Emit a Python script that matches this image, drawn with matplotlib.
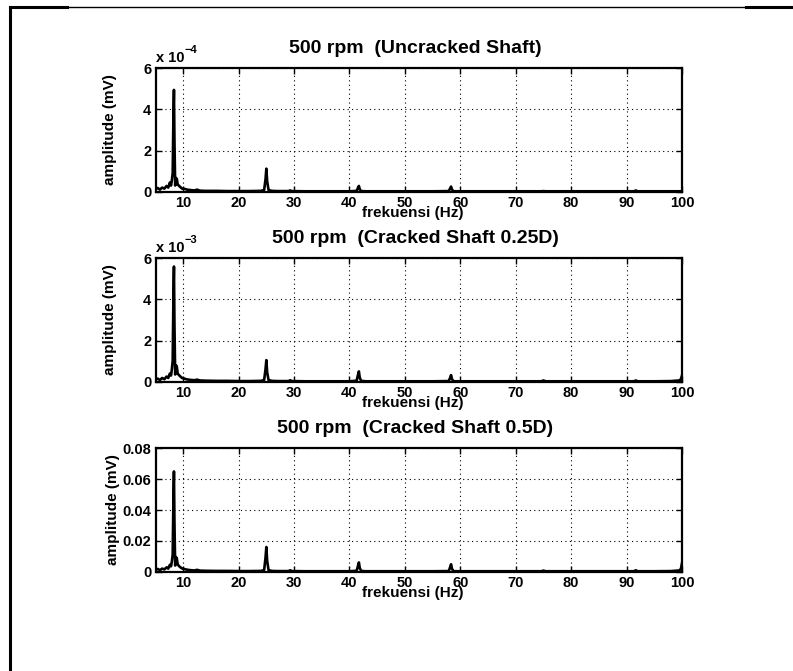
import matplotlib
matplotlib.use("Agg")
import matplotlib.pyplot as plt
from matplotlib.lines import Line2D

plt.rcParams['font.family'] = ['Liberation Sans', 'DejaVu Sans']
plt.rcParams['font.weight'] = 'bold'

freq = [5.0, 5.4, 5.8, 6.2, 6.6, 7.0, 7.3, 7.6, 7.8, 7.95,
        8.1, 8.25, 8.33, 8.42, 8.55, 8.7, 8.85, 9.0, 9.2, 9.5,
        9.8, 10.2, 10.7, 11.3, 12.0, 12.5, 13.0, 14.0, 16.0, 18.0,
        20.0, 22.0, 24.0, 24.6, 24.85, 25.0, 25.15, 25.4, 26.0, 27.0,
        29.0, 29.3, 29.6, 32.0, 36.0, 40.0, 41.3, 41.55, 41.7, 41.85,
        42.1, 43.0, 47.0, 51.0, 55.0, 57.9, 58.15, 58.33, 58.5, 58.8,
        62.0, 66.0, 70.0, 74.6, 75.0, 75.4, 80.0, 85.0, 91.3, 91.67,
        92.0, 95.0, 98.0, 99.5, 99.8, 100.0]

# Uncracked shaft, units of 1e-4 mV
amp_uncracked = [0.12, 0.18, 0.10, 0.20, 0.15, 0.28, 0.20, 0.45, 0.30, 0.55,
                 0.9, 4.0, 4.95, 2.5, 0.3, 0.67, 0.62, 0.35, 0.30, 0.22,
                 0.15, 0.14, 0.10, 0.08, 0.06, 0.10, 0.05, 0.04, 0.04, 0.03,
                 0.03, 0.03, 0.04, 0.08, 0.6, 1.12, 0.5, 0.08, 0.04, 0.03,
                 0.03, 0.06, 0.03, 0.02, 0.02, 0.02, 0.04, 0.2, 0.28, 0.12,
                 0.03, 0.02, 0.02, 0.02, 0.02, 0.03, 0.15, 0.25, 0.1, 0.02,
                 0.02, 0.02, 0.02, 0.02, 0.03, 0.02, 0.02, 0.02, 0.02, 0.06,
                 0.02, 0.02, 0.02, 0.02, 0.02, 0.03]

# Cracked shaft 0.25D, units of 1e-3 mV
amp_crack025 = [0.10, 0.15, 0.08, 0.18, 0.12, 0.25, 0.18, 0.40, 0.30, 0.60,
                1.0, 4.5, 5.6, 2.8, 0.35, 0.80, 0.72, 0.40, 0.33, 0.25,
                0.18, 0.15, 0.11, 0.09, 0.07, 0.10, 0.06, 0.05, 0.04, 0.04,
                0.03, 0.03, 0.04, 0.08, 0.6, 1.05, 0.45, 0.08, 0.04, 0.03,
                0.03, 0.07, 0.03, 0.02, 0.02, 0.02, 0.05, 0.35, 0.5, 0.2,
                0.04, 0.02, 0.02, 0.02, 0.02, 0.03, 0.18, 0.32, 0.12, 0.02,
                0.02, 0.02, 0.02, 0.02, 0.06, 0.02, 0.02, 0.02, 0.02, 0.06,
                0.02, 0.02, 0.03, 0.06, 0.12, 0.3]

# Cracked shaft 0.5D, mV
amp_crack05 = [0.0012, 0.0018, 0.0010, 0.0020, 0.0015, 0.0028, 0.0020, 0.0045, 0.0035, 0.0065,
               0.011, 0.052, 0.065, 0.032, 0.004, 0.0095, 0.0085, 0.0048, 0.0038, 0.0028,
               0.0021, 0.0017, 0.0013, 0.0010, 0.0008, 0.0012, 0.0007, 0.0006, 0.0005, 0.0005,
               0.0004, 0.0004, 0.0005, 0.0010, 0.009, 0.016, 0.007, 0.0010, 0.0005, 0.0004,
               0.0004, 0.0009, 0.0004, 0.0003, 0.0003, 0.0003, 0.0006, 0.004, 0.006, 0.0025,
               0.0005, 0.0003, 0.0003, 0.0003, 0.0003, 0.0004, 0.0028, 0.0048, 0.0018, 0.0003,
               0.0003, 0.0003, 0.0003, 0.0003, 0.0007, 0.0003, 0.0003, 0.0003, 0.0003, 0.0009,
               0.0003, 0.0003, 0.0004, 0.0008, 0.0018, 0.0055]

titles = ['500 rpm  (Uncracked Shaft)',
          '500 rpm  (Cracked Shaft 0.25D)',
          '500 rpm  (Cracked Shaft 0.5D)']
series = [amp_uncracked, amp_crack025, amp_crack05]
ylims = [6, 6, 0.08]
yticks = [[0, 2, 4, 6], [0, 2, 4, 6], [0, 0.02, 0.04, 0.06, 0.08]]
ytick_labels = [['0', '2', '4', '6'], ['0', '2', '4', '6'],
                ['0', '0.02', '0.04', '0.06', '0.08']]
exponents = ['\u22124', '\u22123', None]
xticks = [10, 20, 30, 40, 50, 60, 70, 80, 90, 100]

W, H = 793, 671
fig = plt.figure(figsize=(W / 100, H / 100), dpi=100)

left_px, right_px = 155.5, 682
tops_px = [68.3, 258.3, 448.3]
ax_h_px = 123.4

for i in range(3):
    top = tops_px[i]
    ax = fig.add_axes([left_px / W, 1 - (top + ax_h_px) / H,
                       (right_px - left_px) / W, ax_h_px / H])
    ax.plot(freq, series[i], color='black', linewidth=1.9)
    ax.set_xlim(5, 100)
    ax.set_ylim(0, ylims[i])
    ax.set_xticks(xticks)
    ax.set_xticklabels([str(t) for t in xticks])
    ax.set_yticks(yticks[i])
    ax.set_yticklabels(ytick_labels[i])
    ax.tick_params(direction='in', length=4, width=1.0, top=True, right=True,
                   labelsize=10.5, pad=3)
    for lab in ax.get_xticklabels() + ax.get_yticklabels():
        lab.set_fontweight('bold')
    ax.grid(True, color='black', linestyle=(0, (1, 3)), linewidth=0.8)
    for sp in ax.spines.values():
        sp.set_linewidth(1.6)
    ax.set_title(titles[i], fontsize=14, fontweight='bold', pad=11, x=0.493)
    ax.set_xlabel('frekuensi (Hz)', fontsize=11, fontweight='bold')
    ax.xaxis.set_label_coords(0.488, -0.175)
    ax.xaxis.label.set_va('center')
    ax.set_ylabel('amplitude (mV)', fontsize=11, fontweight='bold')
    ax.yaxis.set_label_coords(-0.087 if i < 2 else -0.080, 0.5)
    ax.yaxis.label.set_va('center')
    if exponents[i]:
        ax.text(0.0, 1.03, 'x 10', transform=ax.transAxes, fontsize=10.5,
                fontweight='bold', ha='left', va='bottom')
        ax.text(0.055, 1.11, exponents[i], transform=ax.transAxes, fontsize=8,
                fontweight='bold', ha='left', va='bottom')

# page border lines
def px_line(x0, y0, x1, y1, lw):
    fig.add_artist(Line2D([x0 / W, x1 / W], [1 - y0 / H, 1 - y1 / H],
                          color='black', linewidth=lw, transform=fig.transFigure))

px_line(10, 6.5, 10, H, 2.2)
px_line(10, 6.5, 67, 6.5, 2.2)
px_line(67, 6.5, 746, 6.5, 1.0)
px_line(746, 6.5, W, 6.5, 2.2)

fig.savefig('out.png', dpi=100)
